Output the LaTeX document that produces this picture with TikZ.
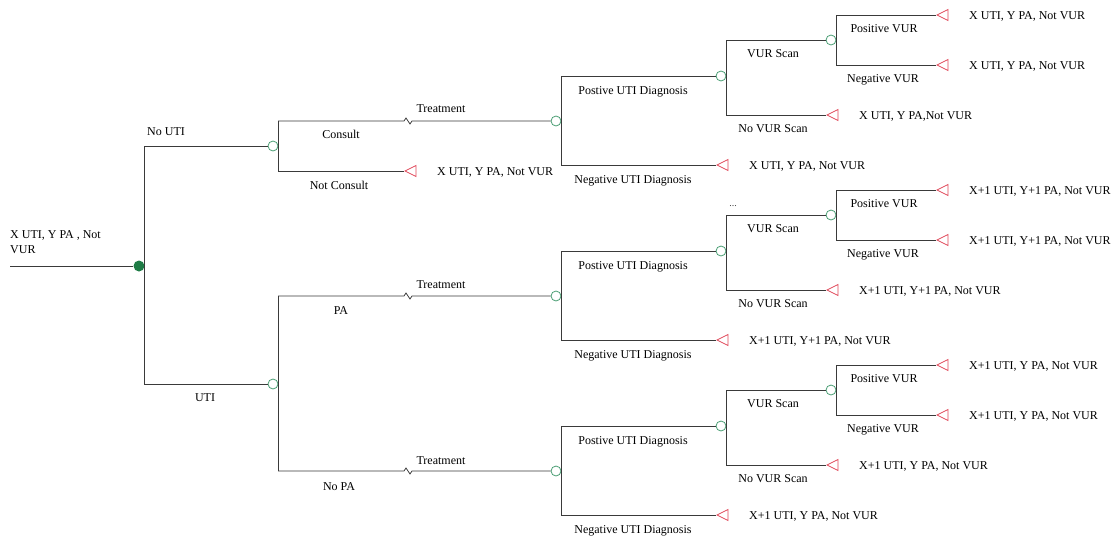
\documentclass[tikz,border=0pt]{standalone}
\usepackage{fontspec}
\setmainfont{Liberation Serif}
\usetikzlibrary{shapes.geometric}
\definecolor{linec}{HTML}{3A3A3A}
\definecolor{chg}{HTML}{4A9E74}
\definecolor{rootg}{HTML}{1E7B45}
\definecolor{trired}{HTML}{E04A5C}
\tikzset{
  chance/.style={circle,draw=chg,fill=white,minimum size=10pt,inner sep=0pt,line width=0.8pt},
  rootnode/.style={circle,fill=rootg,minimum size=11pt,inner sep=0pt},
  endtri/.style={isosceles triangle,isosceles triangle stretches,shape border rotate=180,
    minimum height=11pt,minimum width=11pt,inner sep=0pt,draw=trired,line width=0.8pt,anchor=apex},
  conn/.style={draw=linec,line width=0.8pt},
  lbl/.style={font=\fontsize{12}{15}\selectfont,inner sep=0pt,anchor=base,yshift=-4pt},
  term/.style={font=\fontsize{12}{15}\selectfont,inner sep=0pt,anchor=base west,yshift=-4pt},
}
\begin{document}
\begin{tikzpicture}[x=1pt,y=-1pt]
\useasboundingbox (0,0) rectangle (1117,541);
% root
\node[rootnode] (root) at (139,266) {};
\coordinate (start) at (10,266);
\node[font=\fontsize{12}{15}\selectfont,inner sep=0pt,anchor=north west,align=left] (rootlbl) at (10,230) {X UTI, Y PA , Not\\VUR};
\node[chance] (n1) at (273,146) {};
\node[chance] (n2) at (273,384) {};
\draw[conn] (start) -- (root);
\draw[conn] (root.east) |- (n1.west);
\draw[conn] (root.east) |- (n2.west);
\node[lbl] (lnouti) at (166,131) {No UTI};
\node[lbl] (luti) at (205,397) {UTI};
% not consult
\node[endtri] (nc) at (404,171) {};
\node[term] (ncT) at (437,171) {X UTI, Y PA, Not VUR};
\draw[conn] (n1.east) |- (nc.apex);
\node[lbl] (lcons) at (341,134) {Consult};
\node[lbl] (lncons) at (339,185) {Not Consult};
\node[lbl] (ltr1) at (441,108) {Treatment};
\node[lbl] (lpa) at (341,310) {PA};
\node[lbl] (ltr2) at (441,284) {Treatment};
\node[lbl] (lnopa) at (339,486) {No PA};
\node[lbl] (ltr3) at (441,460) {Treatment};
% subtrees
\foreach \o/\p/\ta/\tb in {0/a/{X UTI, Y PA, Not VUR}/{X UTI, Y PA,Not VUR},
  175/b/{X+1 UTI, Y+1 PA, Not VUR}/{X+1 UTI, Y+1 PA, Not VUR},
  350/c/{X+1 UTI, Y PA, Not VUR}/{X+1 UTI, Y PA, Not VUR}}{
  \node[chance] (t\p) at (556,{121+\o}) {};
  \node[chance] (d\p) at (721,{76+\o}) {};
  \node[chance] (v\p) at (831,{40+\o}) {};
  \node[endtri] (ng\p) at (716,{165+\o}) {};
  \node[endtri] (nv\p) at (826,{115+\o}) {};
  \node[endtri] (pv\p) at (936,{15+\o}) {};
  \node[endtri] (mv\p) at (936,{65+\o}) {};
  \node[term] (ngT\p) at (749,{165+\o}) {\ta};
  \node[term] (nvT\p) at (859,{115+\o}) {\tb};
  \node[term] (pvT\p) at (969,{15+\o}) {\ta};
  \node[term] (mvT\p) at (969,{65+\o}) {\ta};
  \draw[conn] (t\p.east) |- (d\p.west);
  \draw[conn] (t\p.east) |- (ng\p.apex);
  \draw[conn] (d\p.east) |- (v\p.west);
  \draw[conn] (d\p.east) |- (nv\p.apex);
  \draw[conn] (v\p.east) |- (pv\p.apex);
  \draw[conn] (v\p.east) |- (mv\p.apex);
  \node[lbl] (lp\p) at (633,{90+\o}) {Postive UTI Diagnosis};
  \node[lbl] (lng\p) at (633,{179+\o}) {Negative UTI Diagnosis};
  \node[lbl] (ls\p) at (773,{53+\o}) {VUR Scan};
  \node[lbl] (lns\p) at (773,{128+\o}) {No VUR Scan};
  \node[lbl] (lpv\p) at (884,{28+\o}) {Positive VUR};
  \node[lbl] (lmv\p) at (883,{78+\o}) {Negative VUR};
}
\node[font=\fontsize{10}{10}\selectfont,text=darkgray,inner sep=0pt,anchor=base] (dots) at (733,206) {...};
% treatment connectors with break marks
\coordinate (z1) at (404,121);
\coordinate (z2) at (404,296);
\coordinate (z3) at (404,471);
\draw[conn] (n1.east) |- (z1) -- ++(2,-3) -- ++(4,6) -- ++(2,-3) -- (ta.west);
\draw[conn] (n2.east) |- (z2) -- ++(2,-3) -- ++(4,6) -- ++(2,-3) -- (tb.west);
\draw[conn] (n2.east) |- (z3) -- ++(2,-3) -- ++(4,6) -- ++(2,-3) -- (tc.west);
\end{tikzpicture}
\end{document}
